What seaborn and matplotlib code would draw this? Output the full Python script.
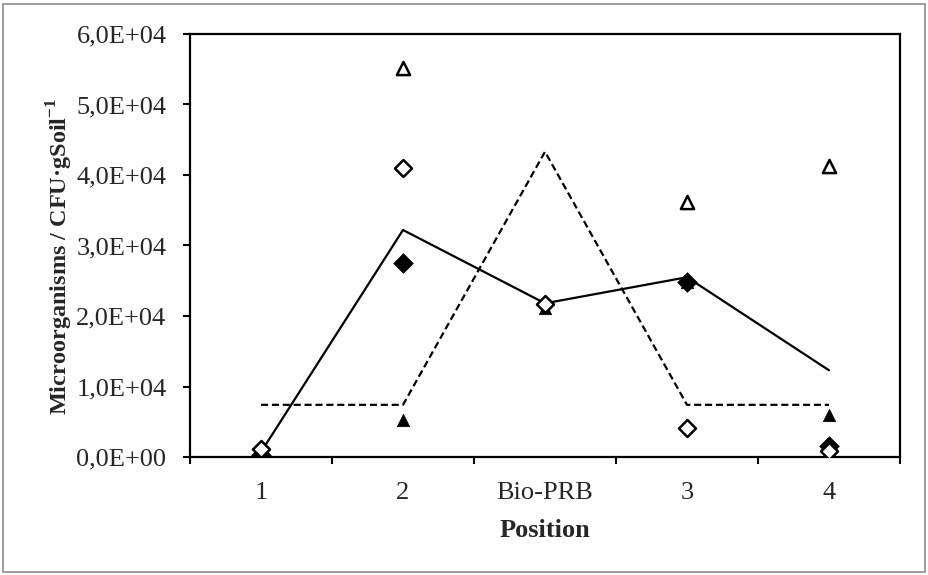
import numpy as np
import pandas as pd
import seaborn as sns
import matplotlib.pyplot as plt
from matplotlib.patches import Rectangle
from matplotlib.ticker import FuncFormatter, FixedLocator

sns.set_theme(style="white")
plt.rcParams["font.family"] = ["Liberation Serif", "DejaVu Serif"]
plt.rcParams["mathtext.fontset"] = "custom"
plt.rcParams["mathtext.rm"] = "Liberation Serif"
plt.rcParams["mathtext.bf"] = "Liberation Serif:bold"

# Sampling positions along the transect
positions = ["1", "2", "Bio-PRB", "3", "4"]

# Trend lines (CFU per g soil)
solid_line = [700, 32200, 21800, 25500, 12300]
dashed_line = [7400, 7400, 43300, 7400, 7400]

# Individual counts (CFU per g soil); NaN where no point is shown
open_triangle = [np.nan, 55200, np.nan, 36200, 41300]
filled_triangle = [200, 5200, 21100, 24800, 6000]
filled_diamond = [300, 27500, np.nan, 24800, 1600]
open_diamond = [1100, 41000, 21700, 4100, 800]

x = np.arange(len(positions))
df = pd.DataFrame({
    "x": x,
    "solid": solid_line,
    "dashed": dashed_line,
    "open_tri": open_triangle,
    "filled_tri": filled_triangle,
    "filled_dia": filled_diamond,
    "open_dia": open_diamond,
})

FS_TICK = 19
FS_LABEL = 19

fig = plt.figure(figsize=(9.29, 5.75), dpi=100)
ax = fig.add_axes([190 / 929, 1 - 457 / 575, 710 / 929, 423 / 575])

sns.lineplot(data=df, x="x", y="solid", ax=ax, color="black", lw=1.6, zorder=2)
sns.lineplot(data=df, x="x", y="dashed", ax=ax, color="black", lw=1.6,
             dashes=False, zorder=2)
ax.lines[-1].set_dashes([3.2, 1.7])

sns.scatterplot(data=df, x="x", y="filled_tri", ax=ax, marker="^", s=80,
                color="black", edgecolor="black", linewidth=0.5, zorder=3)
sns.scatterplot(data=df, x="x", y="filled_dia", ax=ax, marker="D", s=100,
                color="black", edgecolor="black", linewidth=0.5, zorder=3)
sns.scatterplot(data=df, x="x", y="open_tri", ax=ax, marker="^", s=90,
                facecolor="white", edgecolor="black", linewidth=1.8, zorder=4)
sns.scatterplot(data=df, x="x", y="open_dia", ax=ax, marker="D", s=75,
                facecolor="white", edgecolor="black", linewidth=1.8, zorder=4)

ax.set_xlim(-0.5, len(positions) - 0.5)
ax.set_ylim(0, 60000)
ax.set_yticks(np.arange(0, 60001, 10000))
ax.yaxis.set_major_formatter(FuncFormatter(lambda v, p: f"{v:.1E}".replace(".", ",")))

# Category boundaries carry the tick marks; labels sit at category centres
ax.xaxis.set_major_locator(FixedLocator(np.arange(-0.5, len(positions), 1.0)))
ax.xaxis.set_major_formatter(FuncFormatter(lambda v, p: ""))
ax.xaxis.set_minor_locator(FixedLocator(x))
ax.set_xticklabels(positions, minor=True)

ax.tick_params(axis="y", which="major", direction="out", length=5, width=1.5,
               color="black", labelsize=FS_TICK, pad=12, left=True)
ax.tick_params(axis="x", which="major", direction="out", length=5, width=1.5,
               color="black", bottom=True)
ax.tick_params(axis="x", which="minor", length=0, labelsize=FS_TICK, pad=18,
               bottom=True)

for sp in ax.spines.values():
    sp.set_visible(True)
    sp.set_color("black")
    sp.set_linewidth(1.6)

ax.set_xlabel("Position", fontsize=FS_LABEL, fontweight="bold", labelpad=11)
ax.set_ylabel(r"Microorganisms / CFU·gSoil$^{\mathbf{-1}}$", fontsize=17.5,
              fontweight="bold")
ax.yaxis.set_label_coords(-115 / 710, 0.475)

fig.patches.append(Rectangle((3 / 929, 3 / 575), 922 / 929, 568 / 575,
                             transform=fig.transFigure, fill=False,
                             edgecolor="#8c8c8c", linewidth=1.2))

fig.savefig("out.png", dpi=100)
